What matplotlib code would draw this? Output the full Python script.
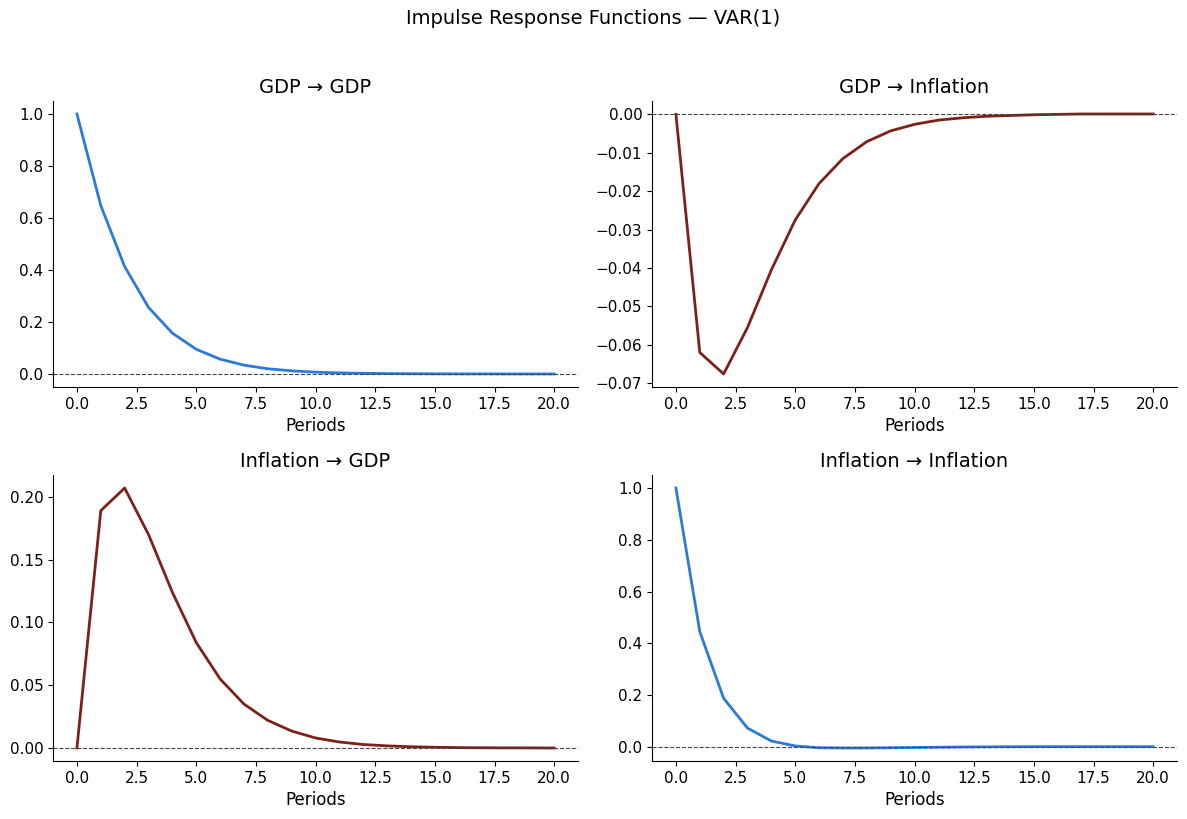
import numpy as np
import matplotlib
matplotlib.use("Agg")
import matplotlib.pyplot as plt

periods = np.arange(21)

## responses
gdp_gdp = [1.0, 0.648, 0.413, 0.256, 0.157, 0.095, 0.057, 0.034, 0.020, 0.012,
           0.007, 0.004, 0.0025, 0.0015, 0.0009, 0.0005, 0.0003, 0.0002, 0.0001, 0.0001, 0.0]
gdp_infl = [0.0, -0.0620, -0.0676, -0.0555, -0.0405, -0.0275, -0.0180, -0.0115, -0.0071, -0.0043,
            -0.0026, -0.0015, -0.0009, -0.0005, -0.0003, -0.0001, 0.0, 0.0001, 0.0001, 0.0001, 0.0001]
infl_gdp = [0.0, 0.189, 0.207, 0.170, 0.124, 0.084, 0.055, 0.035, 0.022, 0.0135,
            0.008, 0.0048, 0.0028, 0.0017, 0.0010, 0.0006, 0.0003, 0.0002, 0.0001, 0.0001, 0.0]
infl_infl = [1.0, 0.445, 0.187, 0.072, 0.022, 0.003, -0.004, -0.005, -0.005, -0.004,
             -0.003, -0.002, -0.001, -0.0005, 0.0, 0.0002, 0.0003, 0.0003, 0.0002, 0.0002, 0.0001]

titles = ["GDP → GDP", "GDP → Inflation", "Inflation → GDP", "Inflation → Inflation"]
series = [gdp_gdp, gdp_infl, infl_gdp, infl_infl]
colors = ["#2a7ad8", "#7b2119", "#7b2119", "#2a7ad8"]

fig, axes = plt.subplots(2, 2, figsize=(11.87, 8.19), dpi=100)
for ax, title, y, c in zip(axes.flat, titles, series, colors):
    ax.plot(periods, y, color=c, linewidth=2)
    ax.axhline(0, color="#444444", linestyle="--", linewidth=0.8)
    ax.set_title(title, fontsize=14)
    ax.set_xlabel("Periods", fontsize=12)
    ax.tick_params(labelsize=11)
    ax.spines["top"].set_visible(False)
    ax.spines["right"].set_visible(False)

fig.suptitle("Impulse Response Functions — VAR(1)", fontsize=14, y=0.978, va="center")
fig.subplots_adjust(left=0.0447, right=0.9916, top=0.8767, bottom=0.0708,
                    wspace=0.141, hspace=0.308)
plt.savefig("out.png", dpi=100)
